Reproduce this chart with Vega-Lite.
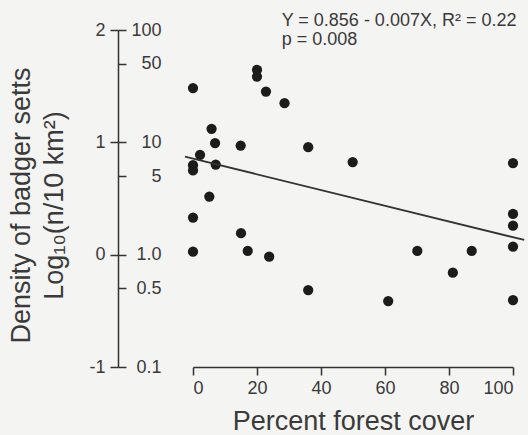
{
  "$schema": "https://vega.github.io/schema/vega-lite/v6.json",
  "width": 320,
  "height": 337,
  "autosize": {"type": "none"},
  "padding": {"left": 193, "top": 30, "right": 15, "bottom": 68},
  "background": "#f4f4f2",
  "config": {
    "view": {"stroke": null},
    "font": "Liberation Sans",
    "axis": {"grid": false, "domainColor": "#333333", "tickColor": "#333333", "labelColor": "#3a3a3a", "titleColor": "#3a3a3a", "domainWidth": 1.5, "tickWidth": 1.5, "labelFont": "Liberation Sans", "titleFont": "Liberation Sans", "titleFontWeight": "normal"}
  },
  "encoding": {
    "x": {
      "field": "x",
      "type": "quantitative",
      "scale": {"domain": [0, 100], "nice": false, "zero": false},
      "axis": {
        "values": [0, 20, 40, 60, 80, 100],
        "tickSize": 8,
        "labelPadding": 4,
        "labelFontSize": 18,
        "title": "Percent forest cover",
        "titleFontSize": 27,
        "titleY": 62,
        "titleBaseline": "alphabetic"
      }
    }
  },
  "layer": [
    {
      "data": {"values": [
        {"x": 0, "y": 1.483},
        {"x": 20, "y": 1.646},
        {"x": 20, "y": 1.586},
        {"x": 22.8, "y": 1.452},
        {"x": 28.6, "y": 1.348},
        {"x": 5.8, "y": 1.12},
        {"x": 6.9, "y": 0.993},
        {"x": 14.9, "y": 0.971},
        {"x": 36.0, "y": 0.957},
        {"x": 2.2, "y": 0.889},
        {"x": 0, "y": 0.797},
        {"x": 0, "y": 0.75},
        {"x": 7.1, "y": 0.802},
        {"x": 49.9, "y": 0.824},
        {"x": 100, "y": 0.815},
        {"x": 5.1, "y": 0.517},
        {"x": 0, "y": 0.33},
        {"x": 15.0, "y": 0.191},
        {"x": 0, "y": 0.027},
        {"x": 17.1, "y": 0.033},
        {"x": 23.8, "y": -0.018},
        {"x": 36.0, "y": -0.315},
        {"x": 61.0, "y": -0.413},
        {"x": 70.1, "y": 0.033},
        {"x": 81.2, "y": -0.16},
        {"x": 87.1, "y": 0.033},
        {"x": 100, "y": 0.363},
        {"x": 100, "y": 0.258},
        {"x": 100, "y": 0.071},
        {"x": 100, "y": -0.404}
      ]},
      "mark": {"type": "circle", "size": 105, "color": "#1c1c1c", "opacity": 1},
      "encoding": {
        "y": {
          "field": "y",
          "type": "quantitative",
          "scale": {"domain": [-1, 2], "nice": false, "zero": false},
          "axis": {
            "orient": "left",
            "offset": 75,
            "values": [-1, 0, 1, 2],
            "labelExpr": "datum.value == -1 ? '-1' : datum.label",
            "tickSize": 8,
            "labelPadding": 5,
            "labelFontSize": 18,
            "title": ["Density of badger setts", "Log₁₀(n/10 km²)"],
            "titleFontSize": 27,
            "titleAngle": -90,
            "titleX": -97,
            "titleY": 175,
            "titleAlign": "center",
            "titleBaseline": "middle",
            "titleLineHeight": 33
          }
        }
      }
    },
    {
      "data": {"values": [
        {"x": -2.5, "y": 0.873},
        {"x": 103.5, "y": 0.131}
      ]},
      "mark": {"type": "line", "color": "#333333", "strokeWidth": 1.8},
      "encoding": {
        "y": {
          "field": "y",
          "type": "quantitative",
          "axis": {
            "orient": "right",
            "offset": -395,
            "domain": false,
            "values": [-1, -0.30103, 0, 0.69897, 1, 1.69897, 2],
            "labelExpr": "datum.value == 2 ? '100' : datum.value > 1.6 ? '50' : datum.value == 1 ? '10' : datum.value > 0.6 ? '5' : datum.value == 0 ? '1.0' : datum.value > -0.5 ? '0.5' : '0.1'",
            "tickSize": 8,
            "labelAlign": "right",
            "labelPadding": 35,
            "labelFontSize": 18,
            "title": null
          }
        }
      }
    },
    {
      "data": {"values": [
        {"x": 27.7, "y": 2.038, "label": "Y = 0.856 - 0.007X, R² = 0.22\np = 0.008"}
      ]},
      "mark": {"type": "text", "align": "left", "baseline": "alphabetic", "fontSize": 18, "lineBreak": "\n", "lineHeight": 19, "color": "#3a3a3a", "font": "Liberation Sans"},
      "encoding": {
        "y": {"field": "y", "type": "quantitative", "axis": null},
        "text": {"field": "label"}
      }
    }
  ],
  "resolve": {"axis": {"y": "independent"}}
}
